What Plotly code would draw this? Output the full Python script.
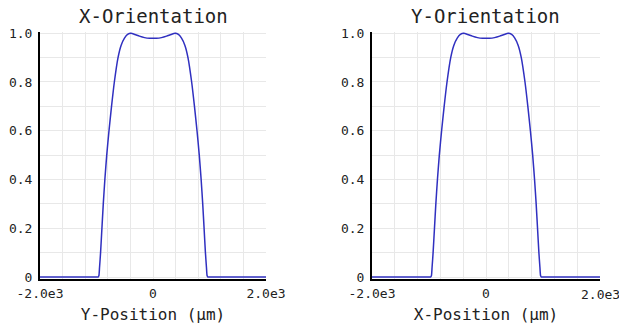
import plotly.graph_objects as go

# Profile data (position in µm, normalized intensity)
pos_x = [-2000, -1000, -972, -958, -946, -928, -904, -880, -852, -819, -779, -734, -684,
         -619, -565, -505, -450, -390, -320, -240, -150, -60, 0,
         60, 150, 240, 320, 390, 450, 505, 565, 619, 684, 734, 779, 819, 852,
         880, 904, 928, 946, 958, 972, 1000, 2000]
val_x = [0.0, 0.0, 0.0, 0.005, 0.04, 0.1, 0.2, 0.3, 0.4, 0.5, 0.6, 0.7, 0.8,
         0.9, 0.95, 0.98, 0.995, 1.0, 0.995, 0.988, 0.982, 0.979, 0.979,
         0.979, 0.982, 0.988, 0.995, 1.0, 0.995, 0.98, 0.95, 0.9, 0.8, 0.7, 0.6, 0.5, 0.4,
         0.3, 0.2, 0.1, 0.04, 0.005, 0.0, 0.0, 0.0]
pos_y = list(pos_x)
val_y = list(val_x)

titles = ["X-Orientation", "Y-Orientation"]
xlabels = ["Y-Position (μm)", "X-Position (μm)"]

x_tickvals = list(range(-2000, 2001, 400))
x_ticktext = ["-2.0e3" if v == -2000 else "0" if v == 0 else "2.0e3" if v == 2000 else "" for v in x_tickvals]
y_tickvals = [i / 10 for i in range(11)]
y_ticktext = ["0", "", "0.2", "", "0.4", "", "0.6", "", "0.8", "", "1.0"]

FONT = "DejaVu Sans Mono"
LINE = "#3030c0"
GRID = "#e8e8e8"
TXT = "#222"

fig = go.Figure()
fig.add_trace(go.Scatter(x=pos_x, y=val_x, mode="lines",
                         line=dict(color=LINE, width=1.5, shape="spline", smoothing=0.6),
                         xaxis="x", yaxis="y", showlegend=False))
fig.add_trace(go.Scatter(x=pos_y, y=val_y, mode="lines",
                         line=dict(color=LINE, width=1.5, shape="spline", smoothing=0.6),
                         xaxis="x2", yaxis="y2", showlegend=False))

W, H = 619, 329
doms_x = [[40 / W, 266 / W], [372 / W, 600 / W]]
dom_y = [1 - 279 / H, 1 - 32 / H]

common_x = dict(range=[-2000, 2000], tickvals=x_tickvals,
                showgrid=True, gridcolor=GRID, gridwidth=1, zeroline=False, automargin=False,
                showline=True, linecolor="black", linewidth=1.5, ticks="", ticklabelstandoff=2,
                tickfont=dict(family=FONT, size=13, color=TXT))
common_y = dict(range=[-0.008, 1.005], tickvals=y_tickvals, ticktext=y_ticktext,
                showgrid=True, gridcolor=GRID, gridwidth=1, zeroline=False, automargin=False,
                showline=True, linecolor="black", linewidth=2, ticks="", ticklabelstandoff=3,
                tickfont=dict(family=FONT, size=13, color=TXT))

# right axis: the "2.0e3" label overflows the page, so it is drawn as an annotation
x2_ticktext = [t if v != 2000 else "" for v, t in zip(x_tickvals, x_ticktext)]

fig.update_layout(
    width=W, height=H, margin=dict(l=0, r=0, t=0, b=0),
    paper_bgcolor="white", plot_bgcolor="white",
    xaxis=dict(domain=doms_x[0], anchor="y", ticktext=x_ticktext,
               title=dict(text=xlabels[0], font=dict(family=FONT, size=16, color=TXT), standoff=8),
               **common_x),
    yaxis=dict(domain=dom_y, anchor="x", **common_y),
    xaxis2=dict(domain=doms_x[1], anchor="y2", ticktext=x2_ticktext,
                title=dict(text=xlabels[1], font=dict(family=FONT, size=16, color=TXT), standoff=8),
                **common_x),
    yaxis2=dict(domain=dom_y, anchor="x2", **common_y),
)

fig.add_annotation(text="2.0e3", x=2000, y=0, xref="x2", yref="paper", yanchor="middle",
                   xanchor="center", yshift=(329 - 294) - 0, showarrow=False,
                   font=dict(family=FONT, size=13, color=TXT))

for i, t in enumerate(titles):
    d = doms_x[i]
    fig.add_annotation(text=t, x=(d[0] + d[1]) / 2, y=1 - 16 / H, xref="paper", yref="paper",
                       showarrow=False, xanchor="center", yanchor="middle",
                       font=dict(family=FONT, size=19, color=TXT))

fig.write_html("out.html")
